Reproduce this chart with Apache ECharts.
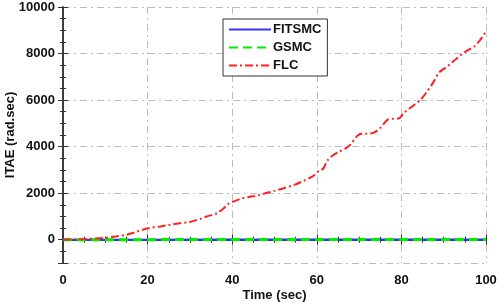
<!DOCTYPE html>
<html>
<head>
<meta charset="utf-8">
<script src="https://cdn.jsdelivr.net/npm/echarts@6/dist/echarts.min.js"></script>
<style>
  html, body { margin: 0; padding: 0; background: #fff; }
  #chart { width: 498px; height: 307px; }
</style>
</head>
<body>
<div id="chart"></div>
<script>
// time (sec) and ITAE values
var flcTime = [0, 5, 9, 12, 15, 17, 20, 23, 25, 28, 30, 32.5, 34, 36.4, 38, 39, 40.4, 42, 44, 46, 47.5, 50, 52.2, 55, 57, 59,
  60.5, 61.5, 62.5, 64, 65.5, 67, 68, 69.5, 70.5, 72, 73.5, 75, 76.7, 78, 79.5, 80.6, 82, 84.6, 86, 87.5, 89, 90.5,
  91.7, 93, 94.9, 96, 97.2, 98.5, 100];
var flcValues = [0, 30, 70, 130, 210, 320, 490, 570, 630, 720, 760, 900, 1000, 1140, 1350, 1530, 1650, 1760, 1840, 1900, 1980, 2100, 2215, 2380, 2540, 2720,
  2960, 3050, 3400, 3650, 3800, 3950, 4100, 4450, 4550, 4560, 4600, 4800, 5150, 5200, 5220, 5450, 5650, 6030, 6350, 6750, 7200, 7400,
  7580, 7780, 8050, 8170, 8300, 8550, 8950];
var smcTime = [0, 20, 40, 60, 80, 100];
var fitsmcValues = [0, 3, 5, 7, 9, 10];
var gsmcValues = [0, 4, 7, 9, 11, 13];
var xTicks = [0, 20, 40, 60, 80, 100];

function pairs(x, y) {
  var out = [];
  for (var i = 0; i < x.length; i++) out.push([x[i], y[i]]);
  return out;
}

var font = 'Liberation Sans, Arial, sans-serif';
var axisLine = { show: true, lineStyle: { color: '#333', width: 1.5 } };
var gridLine = { show: true, lineStyle: { color: '#bdbdbd', width: 1, type: [7, 4, 2, 4] } };

var chart = echarts.init(document.getElementById('chart'));
chart.setOption({
  backgroundColor: '#fff',
  animation: false,
  grid: { left: 63, right: 12, top: 7, bottom: 44, outerBoundsMode: 'none', containLabel: false },
  legend: {
    orient: 'vertical',
    left: 223, top: 19,
    width: 104,
    padding: [4, 6, 4, 5],
    itemGap: 5,
    itemWidth: 42, itemHeight: 14,
    borderColor: '#333', borderWidth: 1, borderRadius: 0,
    backgroundColor: '#fff',
    itemStyle: { opacity: 0 },
    textStyle: { fontFamily: font, fontWeight: 'bold', fontSize: 13, color: '#111', padding: [0, 0, 0, -3] },
    data: ['FITSMC', 'GSMC', 'FLC']
  },
  xAxis: [{
    type: 'value', min: 0, max: 100, interval: 20,
    name: 'Time (sec)', nameLocation: 'middle', nameGap: 26, nameMoveOverlap: false,
    nameTextStyle: { fontFamily: font, fontWeight: 'bold', fontSize: 13, color: '#111' },
    axisLine: axisLine,
    axisTick: { show: true, inside: true, length: 5, lineStyle: { color: '#333' } },
    minorTick: { show: true, splitNumber: 4, length: 3, lineStyle: { color: '#333' } },
    axisLabel: { fontFamily: font, fontWeight: 'bold', fontSize: 13, color: '#111', margin: 11,
      formatter: function (v) { return xTicks.indexOf(v) >= 0 ? String(v) : ''; } },
    splitLine: gridLine
  }, {
    type: 'value', min: 0, max: 100, interval: 20, position: 'top',
    axisLine: axisLine,
    axisTick: { show: true, inside: true, length: 5, lineStyle: { color: '#333' } },
    minorTick: { show: true, splitNumber: 4, length: 3, lineStyle: { color: '#333' } },
    axisLabel: { show: false }, splitLine: { show: false }
  }],
  yAxis: [{
    type: 'value', min: -1000, max: 10000, splitNumber: 5, minInterval: 2000, maxInterval: 2000,
    name: 'ITAE (rad.sec)', nameLocation: 'middle', nameGap: 46, nameMoveOverlap: false,
    nameTextStyle: { fontFamily: font, fontWeight: 'bold', fontSize: 13, color: '#111' },
    axisLine: axisLine,
    axisTick: { show: true, inside: true, length: 5, lineStyle: { color: '#333' } },
    minorTick: { show: true, splitNumber: 4, length: 3, lineStyle: { color: '#333' } },
    axisLabel: { fontFamily: font, fontWeight: 'bold', fontSize: 13, color: '#111', margin: 8, showMinLabel: false,
      formatter: function (v) { return String(v); } },
    splitLine: gridLine
  }, {
    type: 'value', min: -1000, max: 10000, splitNumber: 5, minInterval: 2000, maxInterval: 2000, position: 'right',
    axisLine: axisLine,
    axisTick: { show: true, inside: true, length: 5, lineStyle: { color: '#333' } },
    minorTick: { show: true, splitNumber: 4, length: 3, lineStyle: { color: '#333' } },
    axisLabel: { show: false }, splitLine: { show: false }
  }],
  series: [{
    name: 'FITSMC', type: 'line', symbol: 'none', color: '#3333ff',
    lineStyle: { color: '#3333ff', width: 2, type: 'solid' },
    data: pairs(smcTime, fitsmcValues)
  }, {
    name: 'GSMC', type: 'line', symbol: 'none', color: '#00ee00',
    lineStyle: { color: '#00ee00', width: 3, type: [9, 5] },
    data: pairs(smcTime, gsmcValues)
  }, {
    name: 'FLC', type: 'line', symbol: 'none', color: '#ff2020', smooth: 0.3,
    lineStyle: { color: '#ff2020', width: 2, type: [8, 3, 2, 3] },
    data: pairs(flcTime, flcValues)
  }]
});
</script>
</body>
</html>
